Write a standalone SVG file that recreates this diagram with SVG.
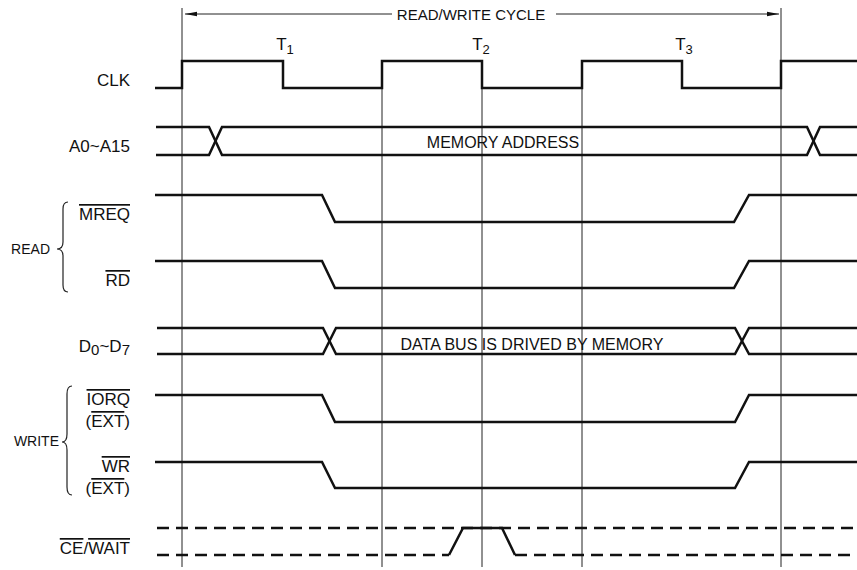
<svg xmlns="http://www.w3.org/2000/svg" width="857" height="570" viewBox="0 0 857 570">
<defs>
<style>
text{font-family:"Liberation Sans",Arial,sans-serif;fill:#111}
.lbl{font-size:17px;text-anchor:end}
.grp{font-size:14px;text-anchor:end}
.in{font-size:16px;text-anchor:middle}
.tl{font-size:17px;text-anchor:middle}
.ol{text-decoration:overline}
.grid{stroke:#222;stroke-width:1;fill:none}
.sig{stroke:#111;stroke-width:2.5;fill:none;stroke-linejoin:miter}
.dash{stroke:#111;stroke-width:2.5;fill:none;stroke-dasharray:12 7}
.brace{stroke:#222;stroke-width:1.2;fill:none}
.dim{stroke:#222;stroke-width:1;fill:none}
</style>
<marker id="ah" viewBox="0 0 12 6" refX="12" refY="3" markerWidth="12" markerHeight="6" orient="auto-start-reverse" markerUnits="userSpaceOnUse">
<path d="M0,0.8 L12,3 L0,5.2 Z" fill="#111"/>
</marker>
</defs>
<rect width="857" height="570" fill="#fff"/>

<g id="grid">
<path class="grid" d="M182,8 V567 M382,61 V567 M482,61 V567 M582,61 V567 M781,8 V567"/>
</g>

<g id="cycle">
<path class="dim" d="M392,14 H185" marker-end="url(#ah)"/>
<path class="dim" d="M556,14 H779" marker-end="url(#ah)"/>
<text x="471" y="20" style="font-size:15px;text-anchor:middle">READ/WRITE CYCLE</text>
</g>

<g id="tlabels">
<text class="tl" x="285" y="50">T<tspan font-size="13" dy="4">1</tspan></text>
<text class="tl" x="481" y="50">T<tspan font-size="13" dy="4">2</tspan></text>
<text class="tl" x="684" y="50">T<tspan font-size="13" dy="4">3</tspan></text>
</g>

<g id="clk">
<text class="lbl" x="130" y="86">CLK</text>
<path class="sig" d="M155,88 H182 V61 H283 V88 H382 V61 H482 V88 H582 V61 H682 V88 H781 V61 H857"/>
</g>

<g id="addr">
<text class="lbl" x="130" y="152">A0~A15</text>
<path class="sig" d="M156,127 H209 L222,155 H807 L820,127 H857"/>
<path class="sig" d="M156,155 H209 L222,127 H807 L820,155 H857"/>
<text class="in" x="503" y="148">MEMORY ADDRESS</text>
</g>

<g id="read">
<text class="grp" x="50" y="254">READ</text>
<path class="brace" d="M68,202 Q63,202 63,209 V242 Q63,249 57,249 Q63,249 63,256 V285 Q63,292 68,292"/>
</g>

<g id="mreq">
<text class="lbl" x="130" y="220"><tspan class="ol">MREQ</tspan></text>
<path class="sig" d="M155,195 H322 L335,222 H734 L749,195 H857"/>
</g>

<g id="rd">
<text class="lbl" x="130" y="286"><tspan class="ol">RD</tspan></text>
<path class="sig" d="M155,261 H322 L335,288 H734 L749,261 H857"/>
</g>

<g id="data">
<text class="lbl" x="130" y="352">D<tspan font-size="15" dy="3">0</tspan><tspan dy="-3">~D</tspan><tspan font-size="15" dy="3">7</tspan></text>
<path class="sig" d="M157,328 H323 L336,354 H735 L749,328 H857"/>
<path class="sig" d="M157,354 H323 L336,328 H735 L749,354 H857"/>
<text class="in" x="532" y="350">DATA BUS IS DRIVED BY MEMORY</text>
</g>

<g id="write">
<text class="grp" x="59" y="446">WRITE</text>
<path class="brace" d="M72,386 Q67,386 67,394 V434 Q67,442 62,442 Q67,442 67,450 V487 Q67,495 72,495"/>
</g>

<g id="iorq">
<text class="lbl" x="130" y="405"><tspan class="ol">IORQ</tspan></text>
<text class="lbl" x="130" y="427">(<tspan class="ol">EXT</tspan>)</text>
<path class="sig" d="M155,395 H322 L335,422 H735 L749,395 H857"/>
</g>

<g id="wr">
<text class="lbl" x="130" y="472"><tspan class="ol">WR</tspan></text>
<text class="lbl" x="130" y="494">(<tspan class="ol">EXT</tspan>)</text>
<path class="sig" d="M155,462 H322 L335,488 H735 L749,462 H857"/>
</g>

<g id="cewait">
<text class="lbl" x="130" y="554"><tspan class="ol">CE</tspan>/<tspan class="ol">WAIT</tspan></text>
<path class="dash" d="M157,528 H857"/>
<path class="dash" d="M157,555 H449"/>
<path class="sig" d="M449,555 L463,528 H502 L515,555"/>
<path class="dash" d="M515,555 H857"/>
</g>
</svg>
